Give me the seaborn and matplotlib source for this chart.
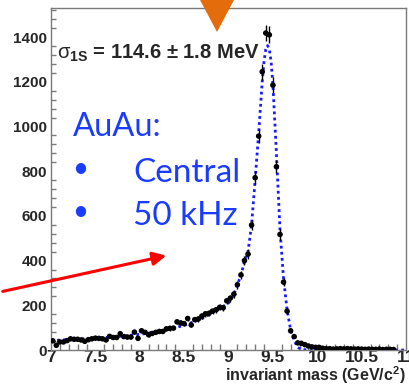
import numpy as np
import pandas as pd
import matplotlib
matplotlib.use("Agg")
import matplotlib.pyplot as plt
from matplotlib.patches import Polygon
from matplotlib.ticker import MultipleLocator
import seaborn as sns

# histogram: 100 bins of 0.04 GeV from 7 to 11
bin_lo, bin_w = 7.0, 0.04
counts = [41, 21, 36, 36, 42, 50, 48, 48, 45, 39,
          46, 50, 53, 52, 50, 45, 61, 56, 56, 73,
          60, 58, 58, 80, 52, 86, 79, 68, 74, 79,
          83, 83, 95, 97, 98, 126, 121, 118, 141, 112,
          136, 139, 152, 162, 164, 174, 180, 191, 189, 220,
          232, 250, 292, 336, 400, 429, 559, 771, 957, 1245,
          1418, 1410, 1185, 820, 517, 304, 174, 86, 60, 32,
          30, 24, 18, 14, 12, 12, 8, 6, 6, 4,
          5, 6, 5, 6, 5, 4, 5, 4, 3, 4,
          3, 3, 4, 2, 3, 3, 2, 0, 0, 0]

# fit curve
fit_x = [7.0, 7.25, 7.5, 7.75, 8.0, 8.25, 8.5, 8.7, 8.9, 9.0, 9.05, 9.1, 9.14,
         9.18, 9.22, 9.26, 9.3, 9.34, 9.38, 9.4, 9.42, 9.44, 9.46, 9.48, 9.5,
         9.54, 9.58, 9.62, 9.66, 9.7, 9.74, 9.78, 9.82, 10.0, 10.5, 11.0]
fit_y = [42, 48, 53, 60, 70, 85, 110, 140, 185, 210, 240, 290, 335,
         395, 440, 560, 760, 970, 1200, 1290, 1345, 1362, 1345, 1290, 1190,
         880, 540, 320, 180, 90, 42, 12, 2, 0, 0, 0]

sigma_label = r"$\sigma_{\mathbf{1S}}$ = 114.6 $\pm$ 1.8 MeV"
box_lines = ["AuAu:", "Central", "50 kHz"]

hist = pd.DataFrame({"mass": bin_lo + bin_w / 2 + bin_w * np.arange(len(counts)),
                     "n": counts})
hist = hist[hist["n"] > 0]
fit = pd.DataFrame({"mass": fit_x, "n": fit_y})

sns.set_style("white")
plt.rcParams["font.family"] = ["Liberation Sans", "DejaVu Sans"]
plt.rcParams["mathtext.fontset"] = "custom"
plt.rcParams["mathtext.rm"] = "Liberation Sans:bold"
plt.rcParams["mathtext.it"] = "Liberation Sans"
plt.rcParams["mathtext.bf"] = "Liberation Sans:bold"

W, H = 409, 387
fig = plt.figure(figsize=(W / 100, H / 100), dpi=100)
ax = fig.add_axes([51 / W, 1 - 350 / H, 355 / W, 342 / H])

sns.lineplot(data=fit, x="mass", y="n", ax=ax, color="#1a1aff",
             linestyle=(0, (1, 1.2)), linewidth=2.0)
ax.errorbar(hist["mass"], hist["n"], yerr=np.sqrt(hist["n"]), xerr=bin_w / 2,
            fmt="none", ecolor="black", elinewidth=1, capsize=0)
sns.scatterplot(data=hist, x="mass", y="n", ax=ax, color="black", s=16,
                edgecolor="none", zorder=3)

ax.set_xlim(7, 11)
ax.set_ylim(0, 1530)
ax.xaxis.set_major_locator(MultipleLocator(0.5))
ax.xaxis.set_minor_locator(MultipleLocator(0.1))
ax.yaxis.set_major_locator(MultipleLocator(200))
ax.yaxis.set_minor_locator(MultipleLocator(40))
ax.set_xticks([7, 7.5, 8, 8.5, 9, 9.5, 10, 10.5, 11])
ax.set_xticklabels(["7", "7.5", "8", "8.5", "9", "9.5", "10", "10.5", "11"])
for s in ax.spines.values():
    s.set_color("#7a7a7a")
    s.set_linewidth(1)
ax.tick_params(axis="x", which="major", direction="in", length=8, width=1,
               color="#7a7a7a", labelsize=12.5, pad=0)
ax.tick_params(axis="x", which="minor", direction="in", length=4, width=1,
               color="#7a7a7a", bottom=True)
ax.tick_params(axis="y", which="major", direction="in", length=6, width=1,
               color="#7a7a7a", labelsize=11, pad=3)
ax.tick_params(axis="y", which="minor", direction="in", length=3.5, width=1,
               color="#7a7a7a", left=True)
for lab in ax.get_xticklabels() + ax.get_yticklabels():
    lab.set_fontweight("bold")
ax.set_ylabel("")
ax.set_xlabel(r"invariant mass (GeV/c$^{\mathbf{2}}$)", fontsize=11.5,
              fontweight="bold", ha="right", va="baseline")
ax.xaxis.set_label_coords(1.0, -(381 - 350) / 342)

fig.text(57 / W, 1 - 59 / H, sigma_label, fontsize=14.5, fontweight="bold",
         va="baseline", ha="left")

blue = "#1a3cff"
fig.text(73 / W, 1 - 136 / H, box_lines[0], fontsize=23.5, color=blue,
         family="Lato", va="baseline", ha="left")
for line, yb, yd in [(box_lines[1], 182, 169), (box_lines[2], 225, 212)]:
    fig.text(133 / W, 1 - yb / H, line, fontsize=24, color=blue,
             family="Lato", va="baseline", ha="left")
    fig.text(80 / W, 1 - yd / H, "\u2022", fontsize=20, color=blue,
             family="Lato", va="center", ha="center")

# red arrow and orange marker
fig.add_artist(matplotlib.patches.FancyArrowPatch(
    (0, 1 - 292 / H), (169 / W, 1 - 255 / H), transform=fig.transFigure,
    arrowstyle="-|>", mutation_scale=20, color="#ff0000", linewidth=2.2))
fig.add_artist(Polygon([(200 / W, 1.0), (234 / W, 1.0), (217 / W, 1 - 32 / H)],
                       closed=True, transform=fig.transFigure,
                       facecolor="#e46c0a", edgecolor="none"))

fig.savefig("out.png", dpi=100)
